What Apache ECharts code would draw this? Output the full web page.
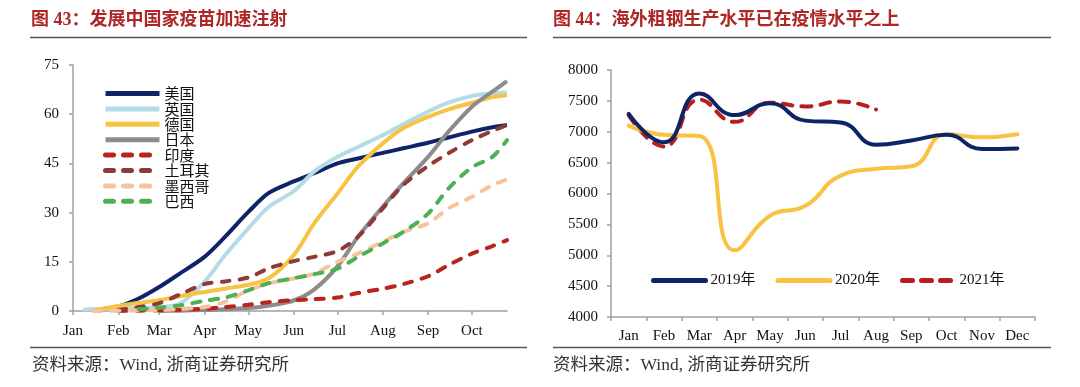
<!DOCTYPE html>
<html>
<head>
<meta charset="utf-8">
<script src="https://cdn.jsdelivr.net/npm/echarts@6/dist/echarts.min.js"></script>
<style>
html,body{margin:0;padding:0;background:#fff;}
#c{width:1080px;height:387px;}
</style>
</head>
<body>
<div id="c"></div>
<script>
// ---------- Left chart data (fully vaccinated share, %) ----------
const leftDates = ['2021-01-08','2021-01-15','2021-02-01','2021-02-15','2021-03-01','2021-03-15','2021-04-01','2021-04-15','2021-05-01','2021-05-15','2021-06-01','2021-06-15','2021-07-01','2021-07-15','2021-08-01','2021-08-15','2021-09-01','2021-09-15','2021-10-01','2021-10-15','2021-10-25'];
const leftNames = ['美国','英国','德国','日本','印度','土耳其','墨西哥','巴西'];
const usVals = [null,0.3,1.4,3.8,7.3,11.4,16.5,22.6,30.2,36.0,39.5,42.0,45.0,46.5,48.2,49.6,51.3,52.9,54.7,56.0,56.7];
const ukVals = [0.4,0.6,0.8,0.9,1.2,2.2,8.9,17.0,25.2,31.8,36.5,42.5,47.0,50.0,53.6,56.9,60.8,63.5,65.6,66.4,66.6];
const deVals = [null,0.1,1.5,2.5,3.3,4.5,5.8,6.8,8.0,10.0,17.0,26.7,35.8,44.0,51.1,55.7,59.2,61.5,63.5,65.2,65.8];
const jpVals = [null,null,null,null,0.0,0.1,0.3,0.5,0.9,1.6,3.2,6.5,13.6,22.6,31.8,38.9,47.0,54.7,62.3,66.9,70.1];
const inVals = [null,null,0.0,0.1,0.2,0.4,0.7,1.2,1.9,2.7,3.3,3.6,4.1,5.5,6.8,8.2,10.6,14.0,17.5,19.8,21.6];
const trVals = [null,null,0.3,1.2,2.4,5.0,8.2,9.0,10.2,13.0,15.2,16.5,18.3,22.6,31.3,38.4,44.2,48.1,52.1,54.9,56.7];
const mxVals = [null,0.0,0.1,0.2,0.3,0.6,1.2,2.8,6.3,8.4,9.9,11.4,15.0,17.5,21.1,24.1,26.7,31.3,34.8,38.4,40.1];
const brVals = [null,null,null,0.5,1.0,1.7,3.1,4.1,6.3,8.5,10.0,11.2,12.9,16.5,20.6,24.1,29.7,37.4,43.8,47.0,52.1];
const leftMonthLabels = ['Jan','Feb','Mar','Apr','May','Jun','Jul','Aug','Sep','Oct'];
const leftMonthStarts = ['2021-01-01','2021-02-01','2021-03-01','2021-04-01','2021-05-01','2021-06-01','2021-07-01','2021-08-01','2021-09-01','2021-10-01'];
const leftAxisEnd = '2021-10-25';
const leftYTicks = [0,15,30,45,60,75];

// ---------- Right chart data (crude steel output) ----------
const rightMonths = ['Jan','Feb','Mar','Apr','May','Jun','Jul','Aug','Sep','Oct','Nov','Dec'];
const v2019 = [7290,6830,7620,7270,7460,7180,7150,6790,6860,6950,6720,6730];
const v2020 = [7100,6950,6930,5080,5640,5800,6290,6400,6440,6960,6910,6960];
const v2021 = [7270,6760,7520,7160,7470,7410,7490,7360];
const rightNames = ['2019年','2020年','2021年'];
const rightYTicks = [4000,4500,5000,5500,6000,6500,7000,7500,8000];

// ---------- helpers ----------
function dayOfYear(s){
  const p = s.split('-').map(Number);
  return Math.round((Date.UTC(p[0],p[1]-1,p[2]) - Date.UTC(p[0],0,1))/86400000);
}
const tickDays = leftMonthStarts.map(dayOfYear);

// ---------- styling ----------
const SERIF = "'Liberation Serif','Times New Roman','Noto Sans CJK SC',serif";
const CJK = "'Noto Sans CJK SC','Liberation Serif',sans-serif";
const TITLE_FONT = "'Liberation Serif','Noto Sans CJK SC',serif";
const AXIS_COLOR = '#a0a0a0';
const leftColors = ['#0f2466','#b4dbe6','#f8c244','#8c8c8c','#bb231e','#8e3b37','#f5c39e','#4db052'];
const leftDashed = [false,false,false,false,true,true,true,true];
const leftVals = [usVals,ukVals,deVals,jpVals,inVals,trVals,mxVals,brVals];

const leftSeries = leftNames.map((name,i)=>({
  name: name,
  type: 'line',
  xAxisIndex: 0, yAxisIndex: 0,
  symbol: 'none',
  smooth: 0.3,
  z: leftDashed[i] ? 3 : 2,
  lineStyle: {color: leftColors[i], width: 4, type: leftDashed[i] ? [8,10] : 'solid', cap: leftDashed[i] ? 'round':'butt'},
  itemStyle: {color: leftColors[i]},
  data: leftDates.map((d,k)=>[dayOfYear(d), leftVals[i][k]])
}));

const rightColors = ['#0f2466','#f8c342','#b81f1c'];
const rightVals = [v2019,v2020,v2021];
const rightSeries = rightNames.map((name,i)=>({
  name: name,
  type: 'line',
  xAxisIndex: 1, yAxisIndex: 1,
  symbol: 'none',
  smooth: 0.5,
  z: 5 - i,
  lineStyle: {color: rightColors[i], width: 4, type: i===2 ? [10,9] : 'solid', cap: 'round'},
  itemStyle: {color: rightColors[i]},
  data: rightVals[i]
}));

const chart = echarts.init(document.getElementById('c'), null, {renderer:'canvas'});
const option = {
  backgroundColor: '#fff',
  animation: false,
  title: [
    {text: '图 43：发展中国家疫苗加速注射', left: 31, top: 11, padding: 0,
     textStyle: {fontSize: 18, fontWeight: 'bold', color: '#ad2727', fontFamily: TITLE_FONT}},
    {text: '图 44：海外粗钢生产水平已在疫情水平之上', left: 553, top: 11, padding: 0,
     textStyle: {fontSize: 18, fontWeight: 'bold', color: '#ad2727', fontFamily: TITLE_FONT}},
    {text: '资料来源：Wind, 浙商证券研究所', left: 32, top: 357, padding: 0,
     textStyle: {fontSize: 17.5, fontWeight: 'normal', color: '#333', fontFamily: TITLE_FONT}},
    {text: '资料来源：Wind, 浙商证券研究所', left: 553, top: 357, padding: 0,
     textStyle: {fontSize: 17.5, fontWeight: 'normal', color: '#333', fontFamily: TITLE_FONT}}
  ],
  graphic: [
    {type:'line', shape:{x1:30,y1:37.5,x2:527,y2:37.5}, style:{stroke:'#555',lineWidth:1.5}},
    {type:'line', shape:{x1:553,y1:37.5,x2:1051,y2:37.5}, style:{stroke:'#555',lineWidth:1.5}},
    {type:'line', shape:{x1:30,y1:347.5,x2:527,y2:347.5}, style:{stroke:'#555',lineWidth:1.5}},
    {type:'line', shape:{x1:553,y1:347.5,x2:1051,y2:347.5}, style:{stroke:'#555',lineWidth:1.5}}
  ],
  legend: [
    {
      data: leftNames,
      orient: 'vertical',
      left: 103, top: 86,
      padding: 0,
      itemWidth: 54, itemHeight: 12, itemGap: 0.4,
      itemStyle: {opacity: 0, borderWidth: 0},
      lineStyle: {width: 5},
      textStyle: {fontSize: 15, lineHeight: 15, color: '#111', fontFamily: CJK},
      selectedMode: false
    },
    {
      data: rightNames,
      orient: 'horizontal',
      left: 651, top: 273,
      padding: 0,
      itemWidth: 52, itemHeight: 14, itemGap: 20,
      itemStyle: {opacity: 0, borderWidth: 0},
      lineStyle: {width: 5},
      textStyle: {fontSize: 15, color: '#111', fontFamily: SERIF},
      selectedMode: false
    }
  ],
  grid: [
    {left: 73, right: 573, top: 65, bottom: 76, containLabel: false},
    {left: 611, right: 45, top: 70, bottom: 70, containLabel: false}
  ],
  xAxis: [
    {
      type: 'value', gridIndex: 0,
      min: 0, max: dayOfYear(leftAxisEnd),
      axisLine: {show: true, onZero: false, lineStyle: {color: AXIS_COLOR, width: 1.5}},
      axisTick: {show: true, length: 4, lineStyle: {color: AXIS_COLOR, width: 1.5}, customValues: tickDays},
      axisLabel: {show: true, customValues: tickDays, margin: 13, fontSize: 15, color: '#111', fontFamily: SERIF,
        formatter: function(v){ const i = tickDays.indexOf(Math.round(v)); return i >= 0 ? leftMonthLabels[i] : ''; }},
      splitLine: {show: false}
    },
    {
      type: 'category', gridIndex: 1,
      data: rightMonths, boundaryGap: true,
      axisLine: {show: true, lineStyle: {color: AXIS_COLOR, width: 1.5}},
      axisTick: {show: true, length: 4, lineStyle: {color: AXIS_COLOR, width: 1.5}},
      axisLabel: {interval: 0, margin: 12, fontSize: 15, color: '#111', fontFamily: SERIF},
      splitLine: {show: false}
    }
  ],
  yAxis: [
    {
      type: 'value', gridIndex: 0,
      min: leftYTicks[0], max: leftYTicks[leftYTicks.length-1], interval: 15,
      axisLine: {show: true, lineStyle: {color: AXIS_COLOR, width: 1.5}},
      axisTick: {show: true, length: 4, lineStyle: {color: AXIS_COLOR, width: 1.5}},
      axisLabel: {margin: 14, fontSize: 15, color: '#111', fontFamily: SERIF, formatter: v => String(v)},
      splitLine: {show: false}
    },
    {
      type: 'value', gridIndex: 1,
      min: rightYTicks[0], max: rightYTicks[rightYTicks.length-1], interval: 500,
      axisLine: {show: true, lineStyle: {color: AXIS_COLOR, width: 1.5}},
      axisTick: {show: true, length: 4, lineStyle: {color: AXIS_COLOR, width: 1.5}},
      axisLabel: {margin: 13, fontSize: 15, color: '#111', fontFamily: SERIF, formatter: v => String(v)},
      splitLine: {show: false}
    }
  ],
  series: leftSeries.concat(rightSeries)
};
chart.setOption(option);
</script>
</body>
</html>
